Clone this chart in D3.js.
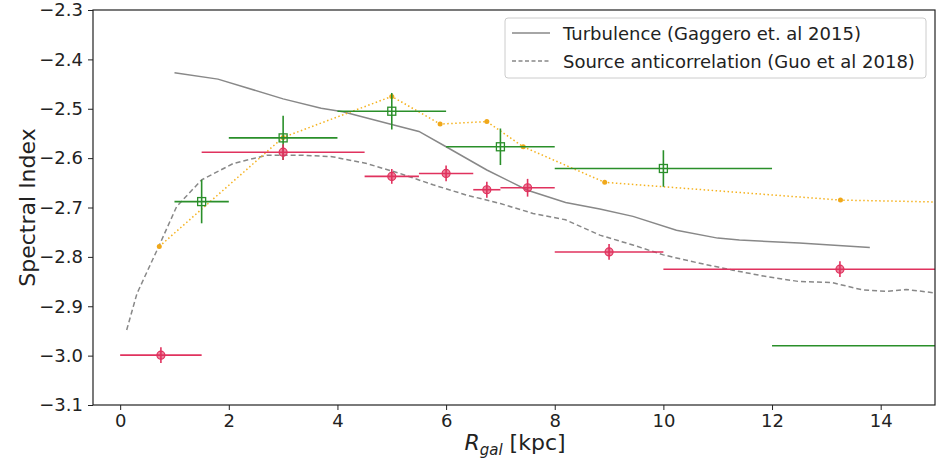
<!DOCTYPE html>
<html>
<head>
<meta charset="utf-8">
<script src="https://cdn.jsdelivr.net/npm/d3@7"></script>
<style>
  body { margin: 0; background: #fff; }
  text { font-family: "DejaVu Sans", sans-serif; fill: #222; }
</style>
</head>
<body>
<svg id="chart" width="938" height="459"></svg>
<script>
// turbulence model (Gaggero et al 2015)
var turbX = [1.0, 1.8, 3.0, 3.7, 4.1, 5.0, 5.5, 6.0, 6.75, 7.5, 8.2, 8.83, 9.44, 10.24, 11.0, 11.4, 12.5, 13.8];
var turbY = [-2.427, -2.44, -2.48, -2.499, -2.506, -2.532, -2.546, -2.577, -2.624, -2.665, -2.69, -2.703, -2.718, -2.746, -2.762, -2.766, -2.772, -2.781];

// source anticorrelation (Guo et al 2018)
var guoX = [0.12, 0.31, 0.34, 0.71, 1.04, 1.5, 2.08, 2.7, 3.3, 3.9, 4.54, 5.15, 5.76, 6.38, 7.0, 7.6, 8.2, 8.83, 9.44, 10.0, 10.67, 11.28, 11.9, 12.5, 13.1, 13.67, 14.1, 14.47, 15.0];
var guoY = [-2.948, -2.874, -2.867, -2.779, -2.698, -2.644, -2.611, -2.594, -2.594, -2.597, -2.611, -2.631, -2.654, -2.675, -2.692, -2.712, -2.725, -2.756, -2.776, -2.796, -2.813, -2.827, -2.84, -2.85, -2.852, -2.867, -2.87, -2.866, -2.873];

// orange dotted series
var orX = [0.72, 3.0, 5.0, 5.89, 6.75, 7.42, 8.92, 13.26, 16.5];
var orY = [-2.779, -2.558, -2.475, -2.531, -2.526, -2.577, -2.649, -2.685, -2.692];

// green squares
var grX = [1.5, 3.0, 5.0, 7.0, 10.0, 16.5];
var grY = [-2.688, -2.559, -2.505, -2.577, -2.621, -2.98];
var grXerr = [0.5, 1.0, 1.0, 1.0, 2.0, 4.5];
var grYerr = [0.044, 0.045, 0.037, 0.037, 0.037, 0.037];

// red circles
var rdX = [0.75, 3.0, 5.0, 6.0, 6.75, 7.5, 9.0, 13.25];
var rdY = [-2.999, -2.588, -2.637, -2.631, -2.664, -2.66, -2.79, -2.825];
var rdXerr = [0.75, 1.5, 0.5, 0.5, 0.25, 0.5, 1.0, 3.25];
var rdYerr = [0.016, 0.016, 0.015, 0.016, 0.016, 0.018, 0.016, 0.016];

var xTicks = [0, 2, 4, 6, 8, 10, 12, 14];
var yTicks = [-3.1, -3.0, -2.9, -2.8, -2.7, -2.6, -2.5, -2.4, -2.3];

var svg = d3.select("#chart");
var pLeft = 93, pRight = 935, pTop = 10, pBottom = 405;

var x = d3.scaleLinear().domain([-0.5, 15]).range([pLeft, pRight]);
var y = d3.scaleLinear().domain([-3.1, -2.3]).range([pBottom, pTop]);

svg.append("defs").append("clipPath").attr("id", "clip")
  .append("rect").attr("x", pLeft).attr("y", pTop)
  .attr("width", pRight - pLeft).attr("height", pBottom - pTop);

var plot = svg.append("g").attr("clip-path", "url(#clip)");

var line = d3.line().x(function(d) { return x(d[0]); }).y(function(d) { return y(d[1]); });

// model curves
plot.append("path")
    .datum(d3.zip(turbX, turbY))
    .attr("d", line)
    .attr("fill", "none")
    .attr("stroke", "#888")
    .attr("stroke-width", 1.5);

plot.append("path")
    .datum(d3.zip(guoX, guoY))
    .attr("d", line)
    .attr("fill", "none")
    .attr("stroke", "#888")
    .attr("stroke-width", 1.5)
    .attr("stroke-dasharray", "5,3");

// orange dotted
var orange = "#f5b21e";
plot.append("path")
    .datum(d3.zip(orX, orY))
    .attr("d", line)
    .attr("fill", "none")
    .attr("stroke", orange)
    .attr("stroke-width", 1.5)
    .attr("stroke-dasharray", "1.5,2.5");

plot.selectAll(".odot")
    .data(d3.zip(orX, orY))
  .enter().append("circle")
    .attr("class", "odot")
    .attr("cx", function(d) { return x(d[0]); })
    .attr("cy", function(d) { return y(d[1]); })
    .attr("r", 2.5)
    .attr("fill", "#f0a81a");

// error bars helper
function errBars(cls, xs, ys, xe, ye, color) {
  var data = xs.map(function(v, i) { return {x: v, y: ys[i], xe: xe[i], ye: ye[i]}; });
  var g = plot.append("g").attr("class", cls);
  g.selectAll(".h").data(data).enter().append("line")
    .attr("x1", function(d) { return x(d.x - d.xe); })
    .attr("x2", function(d) { return x(d.x + d.xe); })
    .attr("y1", function(d) { return y(d.y); })
    .attr("y2", function(d) { return y(d.y); })
    .attr("stroke", color).attr("stroke-width", 1.6);
  g.selectAll(".v").data(data).enter().append("line")
    .attr("x1", function(d) { return x(d.x); })
    .attr("x2", function(d) { return x(d.x); })
    .attr("y1", function(d) { return y(d.y - d.ye); })
    .attr("y2", function(d) { return y(d.y + d.ye); })
    .attr("stroke", color).attr("stroke-width", 1.6);
  return {g: g, data: data};
}

var green = "#2a8f2a";
var gb = errBars("green", grX, grY, grXerr, grYerr, green);
gb.g.selectAll("rect").data(gb.data).enter().append("rect")
    .attr("x", function(d) { return x(d.x) - 4; })
    .attr("y", function(d) { return y(d.y) - 4; })
    .attr("width", 8).attr("height", 8)
    .attr("fill", "none")
    .attr("stroke", green).attr("stroke-width", 1.3);

var red = "#e0325e";
var rb = errBars("red", rdX, rdY, rdXerr, rdYerr, red);
rb.g.selectAll("circle").data(rb.data).enter().append("circle")
    .attr("cx", function(d) { return x(d.x); })
    .attr("cy", function(d) { return y(d.y); })
    .attr("r", 4)
    .attr("fill", red).attr("fill-opacity", 0.6)
    .attr("stroke", red).attr("stroke-width", 1.2);

// axes
var xAxis = svg.append("g")
    .attr("transform", "translate(0," + pBottom + ")")
    .call(d3.axisBottom(x).tickValues(xTicks).tickSize(5).tickPadding(4).tickFormat(d3.format("d")));
var yAxis = svg.append("g")
    .attr("transform", "translate(" + pLeft + ",0)")
    .call(d3.axisLeft(y).tickValues(yTicks).tickSize(5).tickPadding(5)
      .tickFormat(function(d) { return d3.format(".1f")(d).replace("-", "\u2212"); }));
[xAxis, yAxis].forEach(function(a) {
  a.selectAll("text").style("font-size", "18px").attr("fill", "#222");
  a.selectAll("line").attr("stroke", "#222");
  a.select(".domain").remove();
});

// frame
svg.append("rect")
    .attr("x", pLeft).attr("y", pTop)
    .attr("width", pRight - pLeft).attr("height", pBottom - pTop)
    .attr("fill", "none").attr("stroke", "#222").attr("stroke-width", 1.2);

// labels
svg.append("text")
    .attr("transform", "translate(35," + ((pTop + pBottom) / 2) + ") rotate(-90)")
    .attr("text-anchor", "middle")
    .style("font-size", "22px")
    .text("Spectral Index");

var xl = svg.append("text")
    .attr("x", 515).attr("y", 450)
    .attr("text-anchor", "middle")
    .style("font-size", "22px");
xl.append("tspan").style("font-style", "italic").text("R");
xl.append("tspan").style("font-style", "italic").style("font-size", "15px").attr("dy", 5).text("gal");
xl.append("tspan").attr("dy", -5).attr("dx", 7).text("[kpc]");

// legend
var legend = svg.append("g");
legend.append("rect")
    .attr("x", 505).attr("y", 18).attr("width", 421).attr("height", 60)
    .attr("rx", 3)
    .attr("fill", "#fff").attr("fill-opacity", 0.8)
    .attr("stroke", "#ccc");
var legItems = [
  {label: "Turbulence (Gaggero et. al 2015)", dash: null},
  {label: "Source anticorrelation (Guo et al 2018)", dash: "4,2.5"}
];
legItems.forEach(function(d, i) {
  var yy = 33 + i * 28;
  legend.append("line")
    .attr("x1", 512).attr("x2", 550).attr("y1", yy).attr("y2", yy)
    .attr("stroke", "#888").attr("stroke-width", 1.5)
    .attr("stroke-dasharray", d.dash);
  legend.append("text")
    .attr("x", 563).attr("y", yy + 6.5)
    .style("font-size", "18px")
    .text(d.label);
});
</script>
</body>
</html>
